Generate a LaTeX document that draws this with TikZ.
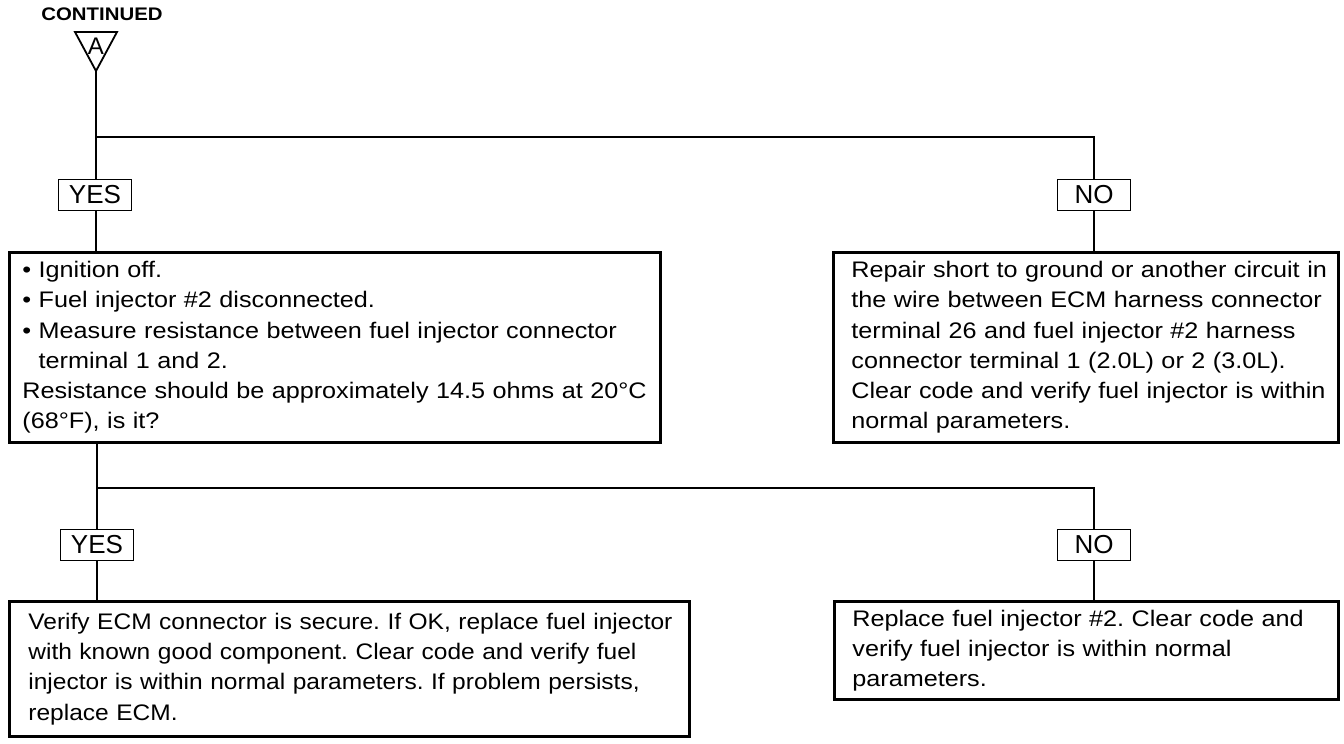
\documentclass[tikz,border=0pt]{standalone}
\usepackage{fontspec}
\setmainfont{Liberation Sans}[FakeStretch=1.12]
\newfontfamily\labfont{Liberation Sans}
\newfontfamily\contfont{Liberation Sans}[FakeStretch=1.12]
\newfontfamily\narrowfont{Liberation Sans}[FakeStretch=1.09]
\newcommand\rowtext[1]{\mbox{#1}}
\begin{document}
\frenchspacing
\begin{tikzpicture}[x=1pt,y=-1pt,
  box/.style={draw, line width=2.8pt, anchor=north west, align=left, inner ysep=0pt,
    font=\frenchspacing\fontsize{22.5}{30.2}\selectfont},
  ans/.style={draw, line width=1.8pt, minimum width=73pt, minimum height=31pt, inner sep=0pt,
    font=\labfont\fontsize{26}{26}\selectfont},
  conn/.style={line width=2pt}]
\useasboundingbox (0,0) rectangle (1344,744);

% header
\node[font=\contfont\bfseries\fontsize{18.2}{19}\selectfont] (cont) at (102,14) {CONTINUED};
\coordinate (t1) at (75,32);
\coordinate (t2) at (117,32);
\coordinate (apex) at (96,71);
\draw[line width=1.8pt, line join=miter] (t1) -- (t2) -- (apex) -- cycle;
\node[font=\labfont\fontsize{24}{24}\selectfont, inner sep=0pt] (A) at (96,46) {A};

% first decision
\node[ans] (yes1) at (95,195) {YES};
\node[ans] (no1) at (1094,195) {NO};

\node[box, inner xsep=13pt, text width=625pt, minimum height=190pt] (b1) at (8,251) {%
\rowtext{• Ignition off.}\\
\rowtext{• Fuel injector \#2 disconnected.}\\
\rowtext{• Measure resistance between fuel injector connector}\\
\rowtext{\phantom{• }terminal 1 and 2.}\\
\rowtext{Resistance should be approximately 14.5 ohms at 20°C}\\
\rowtext{(68°F), is it?}};

\node[box, inner xsep=18pt, text width=469pt, minimum height=190pt] (b2) at (832,251) {%
\rowtext{Repair short to ground or another circuit in}\\
\rowtext{the wire between ECM harness connector}\\
\rowtext{terminal 26 and fuel injector \#2 harness}\\
\rowtext{connector terminal 1 (2.0L) or 2 (3.0L).}\\
\rowtext{Clear code and verify fuel injector is within}\\
\rowtext{normal parameters.}};

% second decision
\node[ans] (yes2) at (97,545) {YES};
\node[ans] (no2) at (1094,545) {NO};

\node[box, inner xsep=19pt, text width=642pt, minimum height=135pt,
  font=\narrowfont\fontsize{22.5}{30.2}\selectfont] (b3) at (8,600) {%
\rowtext{Verify ECM connector is secure. If OK, replace fuel injector}\\
\rowtext{with known good component. Clear code and verify fuel}\\
\rowtext{injector is within normal parameters. If problem persists,}\\
\rowtext{replace ECM.}};

\node[box, inner xsep=18pt, text width=468pt, minimum height=98pt] (b4) at (833,600) {%
\rowtext{Replace fuel injector \#2. Clear code and}\\
\rowtext{verify fuel injector is within normal}\\
\rowtext{parameters.}};

% connectors
\coordinate (j1) at (96,137);
\coordinate (j2) at (97,488);
\draw[conn] (apex) -- (apex |- yes1.north);
\draw[conn] (j1) -| (no1.north);
\draw[conn] (yes1.south -| apex) -- (apex |- b1.north);
\draw[conn] (no1.south) -- (no1.south |- b2.north);
\draw[conn] (j2 |- b1.south) -- (yes2.north);
\draw[conn] (j2) -| (no2.north);
\draw[conn] (yes2.south) -- (yes2.south |- b3.north);
\draw[conn] (no2.south) -- (no2.south |- b4.north);
\end{tikzpicture}
\end{document}
